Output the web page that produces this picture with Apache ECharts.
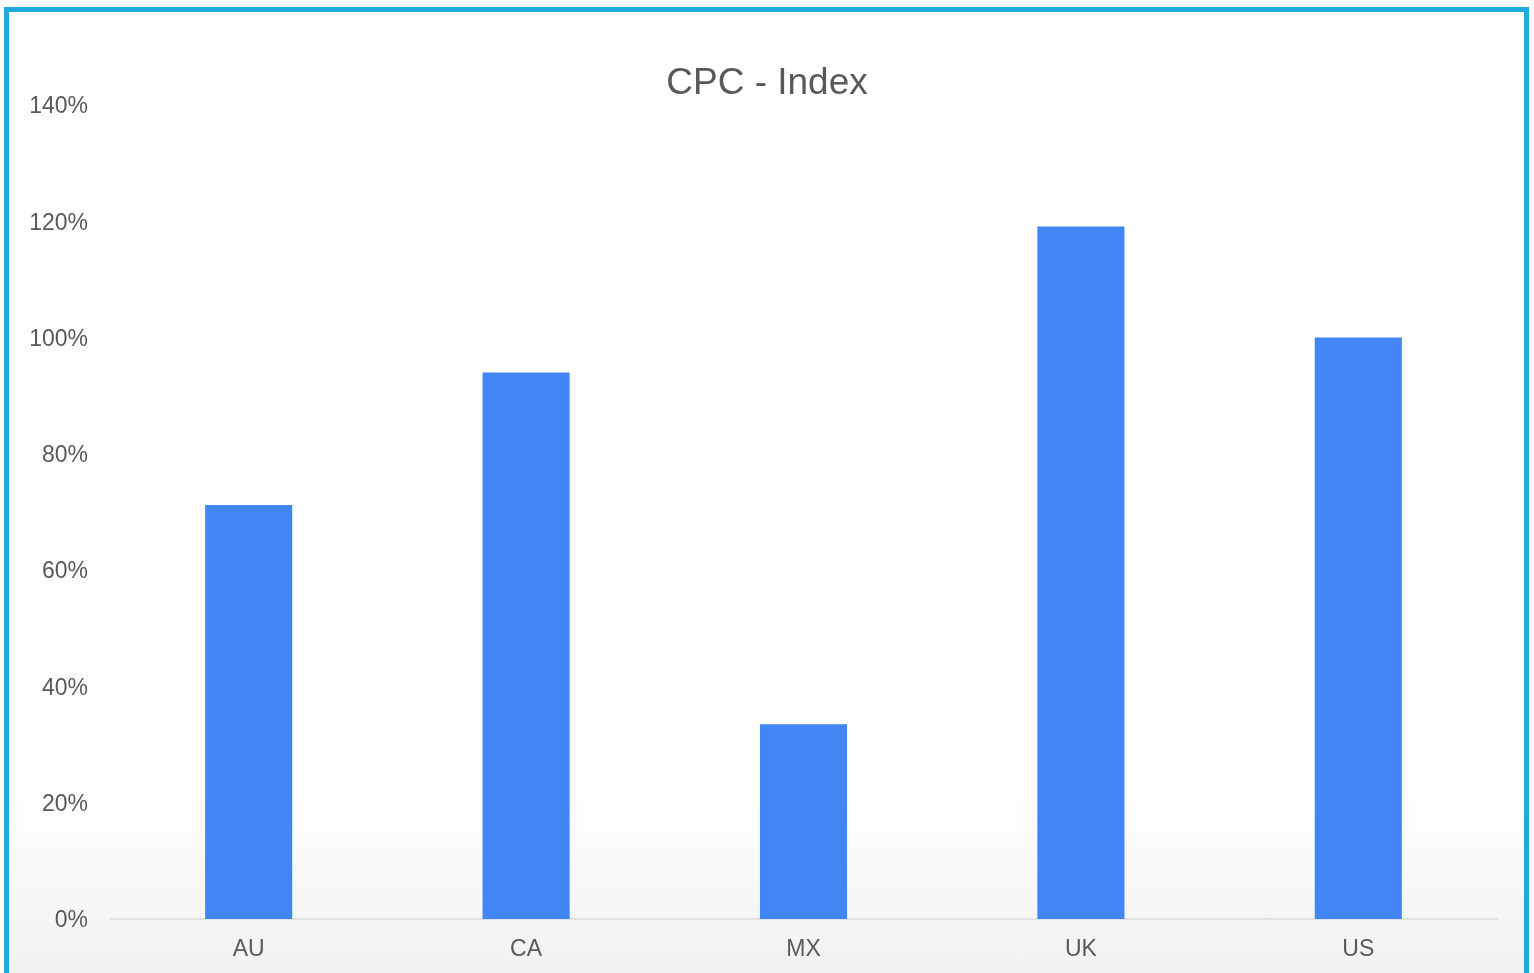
<!DOCTYPE html>
<html>
<head>
<meta charset="utf-8">
<title>CPC - Index</title>
<script src="https://cdn.jsdelivr.net/npm/echarts@6/dist/echarts.min.js"></script>
<style>
  html, body { margin: 0; padding: 0; width: 100%; height: 100%; overflow: hidden; background: #ffffff; }
  #frame {
    position: absolute; left: 4px; top: 7px; width: 1515px; height: 1000px;
    border: 5px solid #1ea9e0;
    background: linear-gradient(to bottom, #ffffff 0%, #ffffff 78%, #eeeeee 100%);
  }
  #chart { position: absolute; left: 0; top: 0; width: 1534px; height: 973px; }
</style>
</head>
<body>
<div id="frame"></div>
<div id="chart"></div>
<script>
// Markets and their CPC index (percent)
const markets = ['AU', 'CA', 'MX', 'UK', 'US'];
const cpcIndex = [71.2, 94.0, 33.5, 119.1, 100.0];
// Value axis ticks (percent)
const yTicks = [0, 20, 40, 60, 80, 100, 120, 140];

const textColor = '#595959';
const fontFamily = '"Liberation Sans", Arial, sans-serif';

const chart = echarts.init(document.getElementById('chart'), null, { renderer: 'canvas' });
chart.setOption({
  backgroundColor: 'transparent',
  animation: false,
  title: {
    text: 'CPC - Index',
    left: 'center',
    top: 60,
    textStyle: { color: textColor, fontSize: 37, fontWeight: 'normal', fontFamily: fontFamily }
  },
  grid: { left: 110, right: 37, top: 105, bottom: 54, containLabel: false },
  xAxis: {
    type: 'category',
    data: markets,
    axisLine: { show: true, lineStyle: { color: '#d9d9d9', width: 1.5 } },
    axisTick: { show: false },
    axisLabel: { color: textColor, fontSize: 23, fontFamily: fontFamily, margin: 19 },
    splitLine: { show: false }
  },
  yAxis: {
    type: 'value',
    min: yTicks[0],
    max: yTicks[yTicks.length - 1],
    interval: yTicks[1] - yTicks[0],
    axisLine: { show: false },
    axisTick: { show: false },
    splitLine: { show: false },
    axisLabel: {
      margin: 22,
      formatter: function (v) { return '{p|' + v + '%}'; },
      rich: {
        p: { color: textColor, fontSize: 23, fontFamily: fontFamily, padding: [4, 0, 0, 0] }
      }
    }
  },
  series: [{
    type: 'bar',
    data: cpcIndex,
    barWidth: '31.4%',
    itemStyle: { color: '#4285f4' }
  }]
});
</script>
</body>
</html>
